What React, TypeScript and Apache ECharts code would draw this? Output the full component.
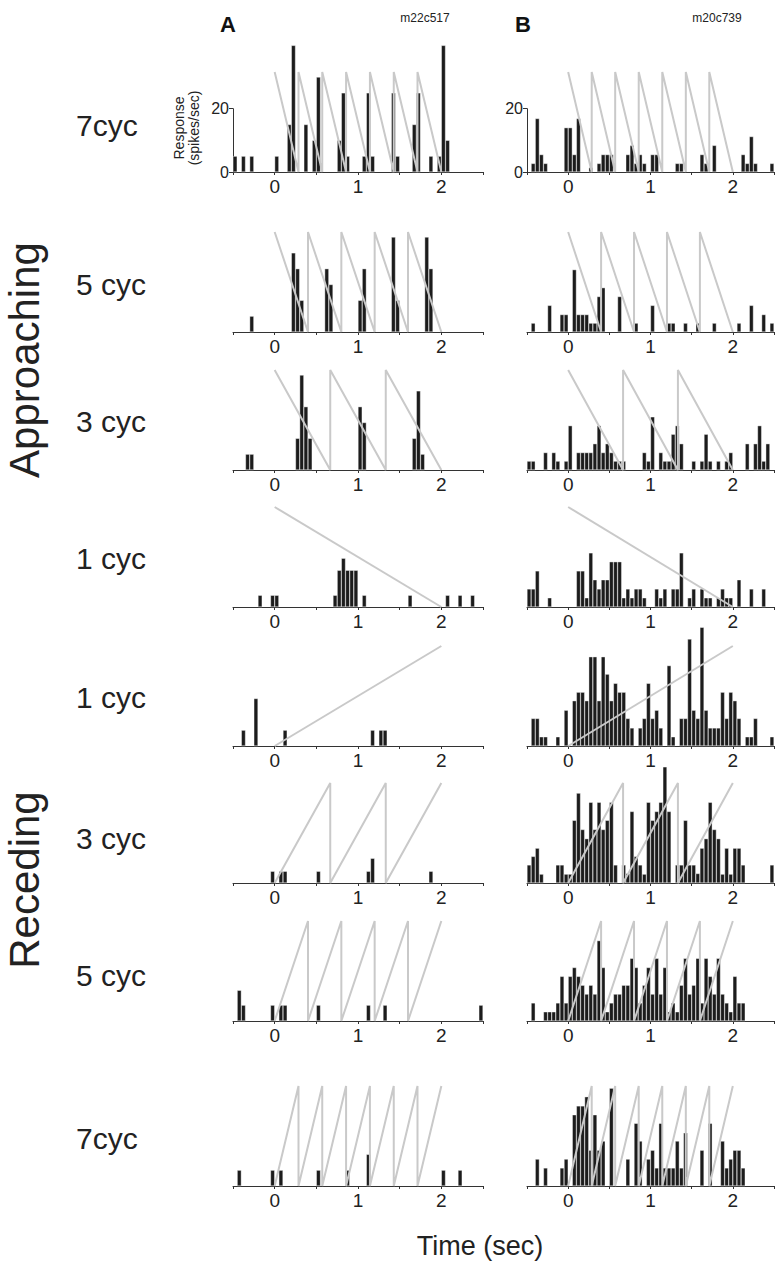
import React, { useEffect, useRef } from "react";
import * as echarts from "echarts";

// ---- Data: spike rate (spikes/sec) per 50 ms bin, from -0.5 s to 2.5 s (60 bins) ----
// Column A (m22c517)
const A7_APP = [5,0,5,0,5,0,0,0,0,0, 5,0,0,15,40,0,0,15,0,10, 30,0,0,0,0,10,25,5,0,0, 0,5,25,5,0,0,0,0,25,5, 0,0,0,15,25,0,0,5,0,5, 40,10,0,0,0,0,0,0,0,0];
const A5_APP = [0,0,0,0,5,0,0,0,0,0, 0,0,0,0,25,20,10,0,0,0, 0,0,20,15,0,0,0,0,0,0, 10,20,0,0,0,0,0,0,30,10, 0,0,0,0,0,0,30,20,0,0, 0,0,0,0,0,0,0,0,0,0];
const A3_APP = [0,0,0,5,5,0,0,0,0,0, 0,0,0,0,0,10,30,20,10,0, 0,0,0,0,0,0,0,0,0,0, 20,15,0,0,0,0,0,0,0,0, 0,0,0,10,25,5,0,0,0,0, 0,0,0,0,0,0,0,0,0,0];
const A1_APP = [0,0,0,0,0,0,3.7,0,0,3.7, 3.7,0,0,0,0,0,0,0,0,0, 0,0,0,0,3.7,11.6,15.4,11.6,11.6,11.6, 0,3.7,0,0,0,0,0,0,0,0, 0,0,3.7,0,0,0,0,0,0,0, 0,3.7,0,0,3.7,0,0,3.7,0,0];
const A1_REC = [0,0,5,0,0,15,0,0,0,0, 0,0,5,0,0,0,0,0,0,0, 0,0,0,0,0,0,0,0,0,0, 0,0,0,5,0,5,5,0,0,0, 0,0,0,0,0,0,0,0,0,0, 0,0,0,0,0,0,0,0,0,0];
const A3_REC = [0,0,0,0,0,0,0,0,0,3.7, 0,3.7,3.7,0,0,0,0,0,0,0, 3.7,0,0,0,0,0,0,0,0,0, 0,0,3.7,7.8,0,0,0,0,0,0, 0,0,0,0,0,0,0,3.7,0,0, 0,0,0,0,0,0,0,0,0,0];
const A5_REC = [0,9.7,5,0,0,0,0,0,0,5, 0,5,5,0,0,0,0,0,0,0, 5,0,0,0,0,0,0,0,0,0, 0,0,5,0,0,0,5,0,0,0, 0,0,0,0,0,0,0,0,0,0, 0,0,0,0,0,0,0,0,0,5];
const A7_REC = [0,5,0,0,0,0,0,0,0,5, 0,5,0,0,0,0,0,0,0,0, 5,0,0,0,0,0,0,5,0,0, 0,0,10,0,0,0,0,0,0,0, 0,0,0,0,0,0,0,0,0,0, 5,0,0,0,5,0,0,0,0,0];
// Column B (m20c739)
const B7_APP = [0,2.7,16.9,5.5,2.7,0,0,0,0,14, 14,5.5,16.9,0,0,1.4,0,2.7,5.5,5.5, 5.5,0,0,0,5.5,8.4,2.7,5.5,2.7,0, 5.5,5.5,0,0,0,0,2.7,2.7,0,0, 0,0,5.5,2.7,0,8.4,0,0,0,0, 0,0,5.5,2.7,11.2,2.7,0,0,0,2.7];
const B5_APP = [0,2.8,0,0,0,8.4,0,0,5.5,5.5, 0,19.7,5.5,5.5,5.5,2.8,2.8,11.2,14,0, 0,0,11.2,0,0,0,2.8,0,0,0, 8.4,0,0,0,2.8,2.8,0,0,2.8,0, 0,2.8,0,0,0,2.8,0,0,0,0, 0,2.8,0,0,8.4,0,0,5.5,0,2.8];
const B3_APP = [2.8,2.8,0,0,5.5,0,5.5,2.8,0,2.8, 14,0,5.5,5.5,5.5,5.5,8.3,14,5.5,8.3, 5.5,2.8,2.8,2.8,0,0,0,0,5.5,2.8, 16.8,0,5.5,2.8,2.8,11.3,14,8.3,0,0, 2.8,0,2.8,11.3,2.8,0,2.8,0,2.8,5.5, 0,0,0,8.3,0,8.3,14,2.8,8.3,0];
const B1_APP = [5.7,5.7,11.4,0,0,2.9,0,0,0,0, 0,0,11.4,11.4,2.9,17.1,8.6,5.7,8.6,8.6, 14.3,14.3,14.3,2.9,5.7,2.9,5.7,5.7,2.9,0, 0,5.7,2.9,5.7,0,5.7,5.7,17.1,0,2.9, 5.7,0,5.7,2.9,2.9,0,2.9,5.7,2.9,2.9, 0,8.6,0,0,5.7,0,0,5.7,0,0];
const B1_REC = [0,8.7,8.7,2.9,2.9,0,0,2.9,0,11.3, 0,14.3,17,17,14.3,28.2,28.2,14.3,28.2,22.7, 14.3,19.8,17,17,8.7,5.7,0,5.7,8.7,19.8, 8.7,11.3,5.7,0,25.4,2.9,0,8.7,8.7,33.8, 11.3,8.7,37.5,11.3,5.7,5.7,5.7,17,8.7,17, 14.3,8.7,0,2.9,2.9,8.7,0,0,0,2.9];
const B3_REC = [5.7,8.4,11,2.8,0,0,0,5.7,5.7,2.8, 2.8,19.8,28.4,16.9,14,25.5,16.9,25.5,16.9,19.8, 25.5,5.7,0,5.7,3,22.6,8.4,5.7,2.8,25.5, 19.8,22.6,25.5,36.7,22.6,0,5.7,5.7,19.8,5.7, 5.7,3,11,14,25.5,16.9,14,2.8,11,2.8, 11,11,5.7,0,0,0,0,0,0,5.7];
const B5_REC = [0,5.7,0,0,2.9,2.9,2.9,5.7,14.1,5.7, 14.1,16.9,14.1,11.3,8.5,11.3,8.5,25.4,16.9,2.9, 5.7,8.5,8.5,11.3,11.3,19.8,16.9,5.7,11.3,16.9, 8.5,19.8,8.5,16.9,2.9,5.7,2.9,11.3,19.8,8.5, 11.3,19.8,5.7,19.8,14.1,8.5,19.8,8.5,5.7,2.9, 14.1,5.7,5.7,0,0,0,0,0,0,0];
const B7_REC = [0,0,8.5,0,5.7,0,0,0,5.7,8.5, 0,22.5,25.3,25.3,28.2,11.3,22.5,11.3,14.2,0, 30.9,0,0,0,8.5,0,19.8,14.2,0,8.5, 11.3,5.7,19.8,5.7,5.7,5.7,14.2,5.7,16.8,0, 0,0,11.3,0,19.8,0,0,14.2,5.7,8.5, 11.3,11.3,5.7,0,0,0,0,0,0,0];

// Stimulus cycle boundaries (sec) and size-trace height
const SAW7 = [0, 0.286, 0.571, 0.857, 1.143, 1.429, 1.714, 2];
const SAW5 = [0, 0.4, 0.8, 1.2, 1.6, 2];
const SAW3 = [0, 0.667, 1.333, 2];
const SAW1 = [0, 2];
const SAW_TOP = 31.6;

const ROW_LABELS = ["7cyc", "5 cyc", "3 cyc", "1 cyc", "1 cyc", "3 cyc", "5 cyc", "7cyc"];
const X_TICK_LABELS = ["0", "1", "2"];
const BIN_LABELS = Array.from({ length: 60 }, (_, i) => (-0.475 + 0.05 * i).toFixed(3));

const ROWS = [
  { a: A7_APP, b: B7_APP, saw: SAW7, approaching: true },
  { a: A5_APP, b: B5_APP, saw: SAW5, approaching: true },
  { a: A3_APP, b: B3_APP, saw: SAW3, approaching: true },
  { a: A1_APP, b: B1_APP, saw: SAW1, approaching: true },
  { a: A1_REC, b: B1_REC, saw: SAW1, approaching: false },
  { a: A3_REC, b: B3_REC, saw: SAW3, approaching: false },
  { a: A5_REC, b: B5_REC, saw: SAW5, approaching: false },
  { a: A7_REC, b: B7_REC, saw: SAW7, approaching: false },
];

// ---- Layout ----
const BASELINES = [172, 332, 470, 607, 746, 883, 1021, 1186];
const LABEL_Y = [125, 284, 421, 558, 697, 838, 975, 1138];
const COLS = [
  { left: 233, width: 250 },
  { left: 527, width: 248 },
];
const Y_MAX = 42;
const PX_PER_UNIT = 100 / SAW_TOP;
const GRID_H = Y_MAX * PX_PER_UNIT;
const FONT = "'Liberation Sans', Arial, Helvetica, sans-serif";

function sawPoints(breaks: number[], approaching: boolean) {
  const pts: number[][] = [];
  for (let k = 0; k < breaks.length - 1; k++) {
    if (approaching) {
      pts.push([breaks[k], SAW_TOP], [breaks[k + 1], 0]);
    } else {
      pts.push([breaks[k], 0], [breaks[k + 1], SAW_TOP]);
    }
  }
  return pts;
}

function buildOption() {
  const grid: any[] = [];
  const xAxis: any[] = [];
  const yAxis: any[] = [];
  const series: any[] = [];

  ROWS.forEach((row, r) => {
    [row.a, row.b].forEach((vals, c) => {
      const g = grid.length;
      grid.push({
        left: COLS[c].left,
        width: COLS[c].width,
        top: BASELINES[r] - GRID_H,
        height: GRID_H,
        containLabel: false,
      });
      const catIdx = xAxis.length;
      xAxis.push({
        type: "category",
        gridIndex: g,
        data: BIN_LABELS,
        show: false,
        boundaryGap: true,
      });
      const valIdx = xAxis.length;
      xAxis.push({
        type: "value",
        gridIndex: g,
        position: "bottom",
        min: -0.5,
        max: 2.5,
        interval: 0.5,
        axisLine: { show: true, onZero: false, lineStyle: { color: "#333", width: 1 } },
        axisTick: { show: true, length: 3, lineStyle: { color: "#333", width: 1 } },
        splitLine: { show: false },
        axisLabel: {
          show: true,
          margin: 5,
          fontSize: 19,
          fontFamily: FONT,
          color: "#222",
          formatter: (v: number) => {
            const s = String(Math.round(v));
            return Math.abs(v - Math.round(v)) < 1e-6 && X_TICK_LABELS.includes(s) ? s : "";
          },
        },
      });
      const yIdx = yAxis.length;
      yAxis.push({
        type: "value",
        gridIndex: g,
        min: 0,
        max: Y_MAX,
        show: false,
        splitLine: { show: false },
      });
      series.push({
        type: "bar",
        xAxisIndex: catIdx,
        yAxisIndex: yIdx,
        data: vals.map((v) => (v > 0 ? v : "-")),
        barCategoryGap: "0%",
        itemStyle: { color: "#1c1c1c", borderColor: "#ffffff", borderWidth: 0.4 },
        z: 2,
        silent: true,
      });
      series.push({
        type: "line",
        xAxisIndex: valIdx,
        yAxisIndex: yIdx,
        data: sawPoints(row.saw, row.approaching),
        showSymbol: false,
        symbol: "none",
        lineStyle: { color: "#c9c9c9", width: 2 },
        z: 3,
        silent: true,
      });
    });
  });

  // y-axis (0..20) for the top row panels
  COLS.forEach((col) => {
    const g = grid.length;
    grid.push({
      left: col.left,
      width: col.width,
      top: BASELINES[0] - 20 * PX_PER_UNIT,
      height: 20 * PX_PER_UNIT,
    });
    const xi = xAxis.length;
    xAxis.push({ type: "value", gridIndex: g, min: -0.5, max: 2.5, show: false });
    const yi = yAxis.length;
    yAxis.push({
      type: "value",
      gridIndex: g,
      position: "left",
      min: 0,
      max: 20,
      interval: 20,
      axisLine: { show: true, onZero: false, lineStyle: { color: "#333", width: 1 } },
      axisTick: { show: true, length: 4, lineStyle: { color: "#333" } },
      splitLine: { show: false },
      axisLabel: { show: true, margin: 4, fontSize: 16, fontFamily: FONT, color: "#222" },
    });
    series.push({ type: "line", xAxisIndex: xi, yAxisIndex: yi, data: [], silent: true });
  });

  const graphic: any[] = [];
  ROW_LABELS.forEach((t, r) => {
    graphic.push({
      type: "text",
      x: 76,
      y: LABEL_Y[r],
      style: { text: t, font: `30px ${FONT}`, fill: "#222", textAlign: "left", textVerticalAlign: "middle" },
    });
  });
  graphic.push(
    {
      type: "text",
      x: 24,
      y: 360,
      rotation: Math.PI / 2,
      style: { text: "Approaching", font: `42px ${FONT}`, fill: "#222", textAlign: "center", textVerticalAlign: "middle" },
    },
    {
      type: "text",
      x: 24,
      y: 880,
      rotation: Math.PI / 2,
      style: { text: "Receding", font: `42px ${FONT}`, fill: "#222", textAlign: "center", textVerticalAlign: "middle" },
    },
    {
      type: "text",
      x: 186,
      y: 128,
      rotation: Math.PI / 2,
      style: {
        text: "Response\n(spikes/sec)",
        font: `14px ${FONT}`,
        lineHeight: 15,
        fill: "#222",
        textAlign: "center",
        textVerticalAlign: "middle",
      },
    },
    { type: "text", x: 228, y: 24, style: { text: "A", font: `bold 22px ${FONT}`, fill: "#111", textAlign: "center", textVerticalAlign: "middle" } },
    { type: "text", x: 523, y: 24, style: { text: "B", font: `bold 22px ${FONT}`, fill: "#111", textAlign: "center", textVerticalAlign: "middle" } },
    { type: "text", x: 425, y: 18, style: { text: "m22c517", font: `12px ${FONT}`, fill: "#222", textAlign: "center", textVerticalAlign: "middle" } },
    { type: "text", x: 717, y: 18, style: { text: "m20c739", font: `12px ${FONT}`, fill: "#222", textAlign: "center", textVerticalAlign: "middle" } },
    { type: "text", x: 480, y: 1246, style: { text: "Time (sec)", font: `27px ${FONT}`, fill: "#222", textAlign: "center", textVerticalAlign: "middle" } }
  );

  return {
    animation: false,
    backgroundColor: "#ffffff",
    grid,
    xAxis,
    yAxis,
    series,
    graphic,
  };
}

export default function App() {
  const ref = useRef<HTMLDivElement>(null);
  useEffect(() => {
    if (!ref.current) return;
    const chart = echarts.init(ref.current, undefined, { renderer: "svg" });
    chart.setOption(buildOption() as any);
    return () => chart.dispose();
  }, []);
  return (
    <div
      ref={ref}
      style={{ position: "absolute", left: 0, top: 0, width: 777, height: 1280, background: "#fff" }}
    />
  );
}
